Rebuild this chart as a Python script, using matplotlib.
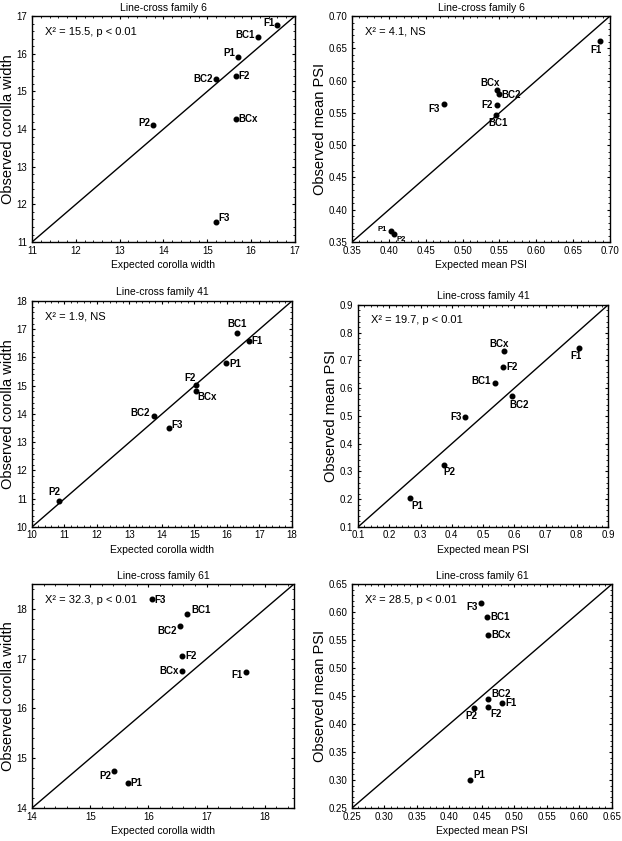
import numpy as np
import matplotlib.pyplot as plt
from matplotlib.ticker import AutoMinorLocator

plt.rcParams['font.family'] = ['Liberation Sans', 'DejaVu Sans']

# group labels for each panel
labels_6c = ['F1', 'BC1', 'P1', 'F2', 'BC2', 'P2', 'BCx', 'F3']
exp_6c = [16.59, 16.15, 15.71, 15.65, 15.20, 13.77, 15.65, 15.20]
obs_6c = [16.75, 16.45, 15.90, 15.40, 15.32, 14.10, 14.26, 11.53]

labels_6p = ['F1', 'BCx', 'BC2', 'F2', 'BC1', 'F3', 'P1', 'P2']
exp_6p = [0.687, 0.547, 0.549, 0.547, 0.546, 0.475, 0.403, 0.407]
obs_6p = [0.661, 0.586, 0.580, 0.562, 0.547, 0.564, 0.367, 0.362]

labels_41c = ['BC1', 'F1', 'P1', 'F2', 'BCx', 'BC2', 'F3', 'P2']
exp_41c = [16.32, 16.67, 15.96, 15.04, 15.04, 13.75, 14.21, 10.82]
obs_41c = [16.86, 16.57, 15.79, 15.02, 14.82, 13.92, 13.50, 10.93]

labels_41p = ['BCx', 'F1', 'F2', 'BC1', 'BC2', 'F3', 'P2', 'P1']
exp_41p = [0.566, 0.807, 0.564, 0.538, 0.592, 0.443, 0.374, 0.266]
obs_41p = [0.734, 0.746, 0.678, 0.617, 0.572, 0.497, 0.325, 0.206]

labels_61c = ['F3', 'BC1', 'BC2', 'F2', 'BCx', 'F1', 'P2', 'P1']
exp_61c = [16.06, 16.66, 16.54, 16.58, 16.58, 17.67, 15.41, 15.65]
obs_61c = [18.21, 17.89, 17.66, 17.06, 16.75, 16.73, 14.75, 14.50]

labels_61p = ['F3', 'BC1', 'BCx', 'BC2', 'F1', 'F2', 'P2', 'P1']
exp_61p = [0.448, 0.458, 0.459, 0.460, 0.481, 0.459, 0.438, 0.432]
obs_61p = [0.616, 0.591, 0.559, 0.444, 0.437, 0.431, 0.428, 0.300]

stats = ['X\u00b2 = 15.5, p < 0.01', 'X\u00b2 = 4.1, NS',
         'X\u00b2 = 1.9, NS', 'X\u00b2 = 19.7, p < 0.01',
         'X\u00b2 = 32.3, p < 0.01', 'X\u00b2 = 28.5, p < 0.01']
titles = ['Line-cross family 6', 'Line-cross family 6',
          'Line-cross family 41', 'Line-cross family 41',
          'Line-cross family 61', 'Line-cross family 61']

# label offsets in points (dx, dy, ha)
offs_6c = [(-2, 2, 'right'), (-2, 1.5, 'right'), (-2.5, 3, 'right'), (2, 0, 'left'),
           (-2, 0, 'right'), (-2, 2, 'right'), (2, 0.5, 'left'), (2, 3, 'left')]
offs_6p = [(-3, -6, 'center'), (2, 5, 'right'), (2, -1, 'left'), (-3.5, 0, 'right'),
           (1.5, -6, 'center'), (-3, -3.5, 'right'), (-3, 1, 'right'), (2, -3.5, 'left')]
offs_41c = [(0, 6.5, 'center'), (2, 0, 'left'), (2.5, -0.5, 'left'), (-4, 5, 'center'),
            (1, -4.5, 'left'), (-2.5, 2.5, 'right'), (2, 2.5, 'left'), (1, 6, 'right')]
offs_41p = [(-3, 5, 'center'), (-2, -6, 'center'), (2.5, 0, 'left'), (-3, 1.5, 'right'),
            (-1.5, -6.5, 'left'), (-2.5, 0, 'right'), (0, -5.5, 'left'), (1, -6, 'left')]
offs_61c = [(2, -1, 'left'), (3, 3, 'left'), (-2, -3.5, 'right'), (2.5, 0, 'left'),
            (-2.5, 0, 'right'), (-2, -2, 'right'), (-2, -3.5, 'right'), (2, 0, 'left')]
offs_61p = [(-2, -2.5, 'right'), (2.5, 0, 'left'), (2.5, 0, 'left'), (2, 4, 'left'),
            (2.5, 0, 'left'), (2, -5.5, 'left'), (2, -5.5, 'right'), (2, 3.5, 'left')]

panels = [
    (exp_6c, obs_6c, labels_6c, offs_6c, (11, 17), np.arange(11, 18, 1), '%d', 'corolla'),
    (exp_6p, obs_6p, labels_6p, offs_6p, (0.35, 0.70), np.arange(0.35, 0.701, 0.05), '%.2f', 'psi'),
    (exp_41c, obs_41c, labels_41c, offs_41c, (10, 18), np.arange(10, 19, 1), '%d', 'corolla'),
    (exp_41p, obs_41p, labels_41p, offs_41p, (0.1, 0.9), np.arange(0.1, 0.91, 0.1), '%.1f', 'psi'),
    (exp_61c, obs_61c, labels_61c, offs_61c, (14, 18.5), np.arange(14, 19, 1), '%d', 'corolla'),
    (exp_61p, obs_61p, labels_61p, offs_61p, (0.25, 0.65), np.arange(0.25, 0.651, 0.05), '%.2f', 'psi'),
]

# axes boxes [left, bottom, width, height] in figure fraction
boxes = [
    [0.0514, 0.7122, 0.4228, 0.2687],
    [0.5659, 0.7122, 0.4148, 0.2687],
    [0.0514, 0.3734, 0.4180, 0.2687],
    [0.5756, 0.3734, 0.4019, 0.2640],
    [0.0514, 0.0392, 0.4212, 0.2663],
    [0.5659, 0.0392, 0.4180, 0.2663],
]

fig = plt.figure(figsize=(6.22, 8.41), dpi=100)

for i, (ex, ob, labs, offs, lim, ticks, fmt, kind) in enumerate(panels):
    ax = fig.add_axes(boxes[i])
    ax.plot(lim, lim, color='black', lw=1.0)
    ax.plot(ex, ob, 'o', color='black', ms=3.3)
    for x, y, lab, (dx, dy, ha) in zip(ex, ob, labs, offs):
        small = (i == 1 and lab in ('P1', 'P2'))
        ax.annotate(lab, (x, y), xytext=(dx, dy), textcoords='offset points',
                    ha=ha, va='center', fontsize=5.5 if small else 7, fontweight='bold')
    ax.set_xlim(lim)
    ax.set_ylim(lim)
    ax.set_xticks(ticks)
    ax.set_yticks(ticks)
    ax.set_xticklabels([fmt % t for t in ticks])
    ax.set_yticklabels([fmt % t for t in ticks])
    ax.xaxis.set_minor_locator(AutoMinorLocator(5))
    ax.yaxis.set_minor_locator(AutoMinorLocator(5))
    ax.tick_params(which='both', direction='in', top=True, right=True, labelsize=7)
    ax.tick_params(axis='x', pad=2.5)
    ax.tick_params(axis='y', pad=3.5)
    ax.tick_params(which='major', length=2.5, width=0.8)
    ax.tick_params(which='minor', length=1.2, width=0.6)
    for sp in ax.spines.values():
        sp.set_linewidth(1.0)
    ax.set_title(titles[i], fontsize=7.5, pad=4)
    ax.text(0.05, 0.93, stats[i], transform=ax.transAxes, fontsize=8, va='center')
    if kind == 'corolla':
        ax.set_xlabel('Expected corolla width', fontsize=7.5, labelpad=3)
        ax.set_ylabel('Observed corolla width', fontsize=10.5, labelpad=1)
    else:
        ax.set_xlabel('Expected mean PSI', fontsize=7.5, labelpad=3)
        ax.set_ylabel('Observed mean PSI', fontsize=10.5, labelpad=1)

plt.savefig('out.png', dpi=100)
